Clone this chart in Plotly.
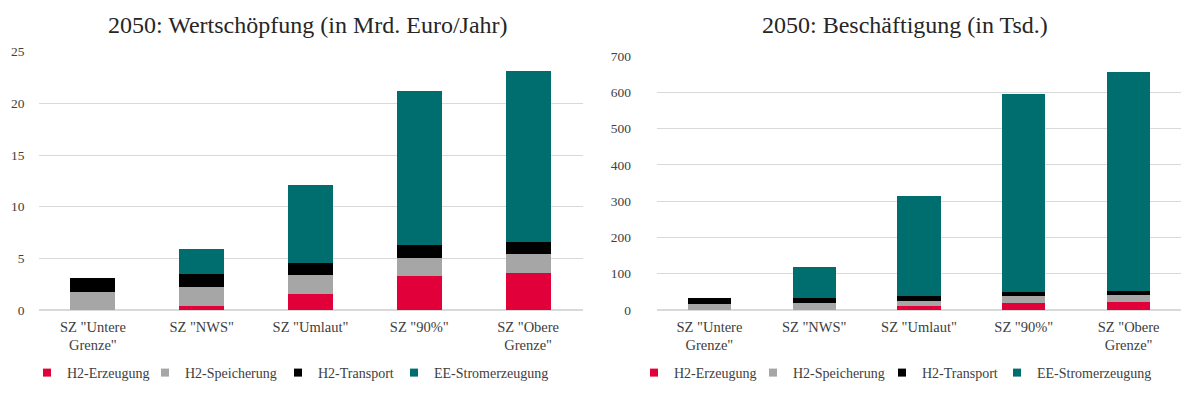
import plotly.graph_objects as go

categories = ['SZ "Untere<br>Grenze"', 'SZ "NWS"', 'SZ "Umlaut"', 'SZ "90%"', 'SZ "Obere<br>Grenze"']
series_names = ["H2-Erzeugung", "H2-Speicherung", "H2-Transport", "EE-Stromerzeugung"]
colors = ["#E2003A", "#A6A6A6", "#000000", "#006E6E"]

# Wertschöpfung (Mrd. Euro/Jahr)
ws_erzeugung = [0.0, 0.42, 1.58, 3.26, 3.61]
ws_speicherung = [1.71, 1.84, 1.81, 1.74, 1.78]
ws_transport = [1.42, 1.22, 1.19, 1.26, 1.19]
ws_ee = [0.0, 2.45, 7.52, 14.94, 16.52]

# Beschäftigung (Tsd.)
be_erzeugung = [0.0, 0.0, 11, 20, 22]
be_speicherung = [15.7, 18.4, 14.6, 18.5, 18.5]
be_transport = [16.3, 13.6, 12.9, 11.0, 11.5]
be_ee = [0.0, 87, 274.5, 545.5, 605]

left_title = "2050: Wertschöpfung (in Mrd. Euro/Jahr)"
right_title = "2050: Beschäftigung (in Tsd.)"

FONT = "Liberation Serif"
TXT = "#404040"
OFF = 8  # page body margin
W, H = 1200 - OFF, 395 - OFF
def px(x): return (x - OFF) / W
def py(y): return 1 - (y - OFF) / H

# legend text start positions (pixels) for each panel
left_legend_text_x = [62, 180, 313, 429]
right_legend_text_x = [669, 788, 917, 1032]

fig = go.Figure()
left_data = [ws_erzeugung, ws_speicherung, ws_transport, ws_ee]
right_data = [be_erzeugung, be_speicherung, be_transport, be_ee]
legend_layouts = {}
k = 0
for data, xa, ya, tx in [(left_data, "x", "y", left_legend_text_x),
                         (right_data, "x2", "y2", right_legend_text_x)]:
    for i, (name, col, vals) in enumerate(zip(series_names, colors, data)):
        k += 1
        lname = "legend" if k == 1 else f"legend{k}"
        fig.add_trace(go.Bar(x=categories, y=vals, name=name,
                             marker=dict(color=col, line=dict(width=0)),
                             xaxis=xa, yaxis=ya, showlegend=False))
        # legend-only entry with a small square key
        fig.add_trace(go.Scatter(x=[None], y=[None], mode="markers", name=name,
                                 marker=dict(symbol="square", size=8, color=col),
                                 xaxis=xa, yaxis=ya, legend=lname, showlegend=True,
                                 hoverinfo="skip"))
        legend_layouts[lname] = dict(
            orientation="h", x=px(tx[i] - 35), y=py(373), xanchor="left", yanchor="middle",
            font=dict(family=FONT, size=14, color=TXT), itemwidth=30,
            bgcolor="rgba(0,0,0,0)", visible=True)

axis_x = dict(showline=False, ticks="", automargin=False, ticklabelstandoff=6,
              tickfont=dict(family=FONT, size=14.5, color=TXT))
axis_y = dict(gridcolor="#D9D9D9", gridwidth=1, zeroline=True, zerolinecolor="#D9D9D9",
              automargin=False, showline=False, ticks="",
              tickfont=dict(family=FONT, size=13.5, color=TXT))
fig.update_layout(
    width=W, height=H, barmode="stack", bargap=0.587, showlegend=True,
    paper_bgcolor="white", plot_bgcolor="white",
    margin=dict(l=0, r=0, t=0, b=0),
    font=dict(family=FONT, color=TXT),
    xaxis=dict(domain=[px(38.5), px(582.5)], anchor="y", **axis_x),
    yaxis=dict(domain=[py(310), py(51.7)], range=[0, 25], dtick=5, anchor="x",
               ticklabelstandoff=13, **axis_y),
    xaxis2=dict(domain=[px(657), px(1181)], anchor="y2", **axis_x),
    yaxis2=dict(domain=[py(310), py(56)], range=[0, 700], dtick=100, anchor="x2",
                ticklabelstandoff=25, **axis_y),
    annotations=[
        dict(text=left_title, x=px(308), y=py(25), xref="paper", yref="paper", showarrow=False,
             xanchor="center", yanchor="middle", font=dict(family=FONT, size=24, color="#262626")),
        dict(text=right_title, x=px(905), y=py(25), xref="paper", yref="paper", showarrow=False,
             xanchor="center", yanchor="middle", font=dict(family=FONT, size=24, color="#262626")),
    ],
    **legend_layouts,
)
fig.write_html("out.html")
